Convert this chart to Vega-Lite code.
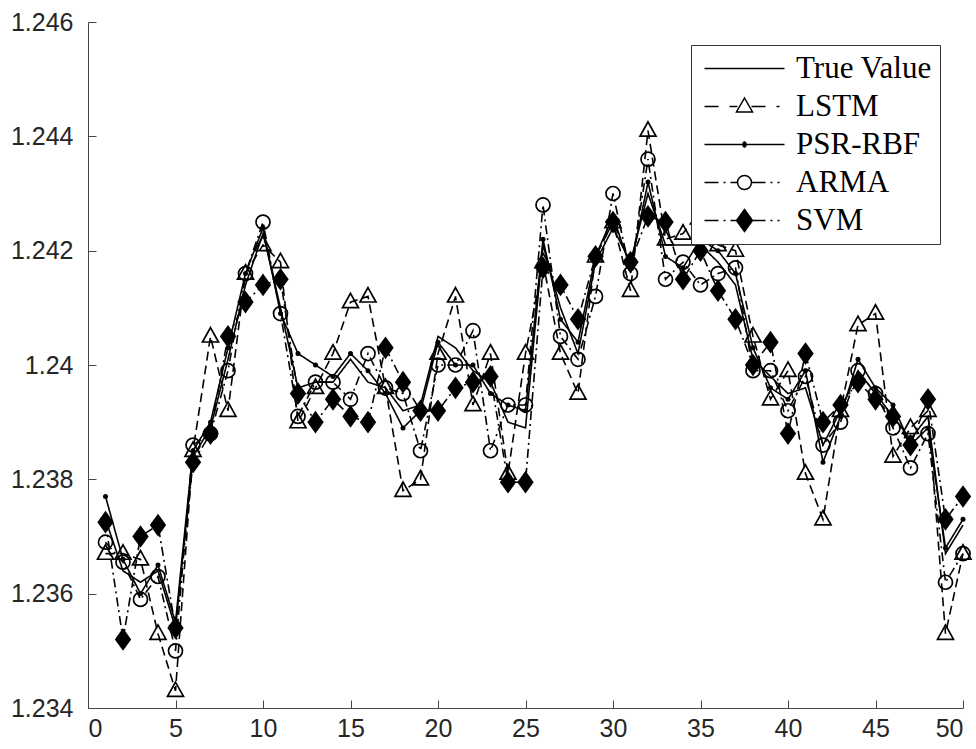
{
  "$schema": "https://vega.github.io/schema/vega-lite/v6.json",
  "width": 875,
  "height": 686,
  "autosize": {"type": "none"},
  "padding": {"left": 88, "top": 22, "right": 13, "bottom": 41},
  "background": "white",
  "config": {
    "view": {"stroke": null},
    "axis": {
      "grid": false,
      "domainColor": "#444444",
      "tickColor": "#444444",
      "labelColor": "#262626",
      "labelFont": "Liberation Sans",
      "labelFontSize": 25,
      "domainWidth": 1,
      "tickWidth": 1
    }
  },
  "data": {
    "values": [
      {"x": 1, "True Value": 1.2373, "LSTM": 1.2367, "PSR-RBF": 1.2377, "ARMA": 1.2369, "SVM": 1.23725},
      {"x": 2, "True Value": 1.2364, "LSTM": 1.2367, "PSR-RBF": 1.2366, "ARMA": 1.23655, "SVM": 1.2352},
      {"x": 3, "True Value": 1.2362, "LSTM": 1.2366, "PSR-RBF": 1.236, "ARMA": 1.2359, "SVM": 1.237},
      {"x": 4, "True Value": 1.2364, "LSTM": 1.2353, "PSR-RBF": 1.2365, "ARMA": 1.2363, "SVM": 1.2372},
      {"x": 5, "True Value": 1.2354, "LSTM": 1.2343, "PSR-RBF": 1.2355, "ARMA": 1.235, "SVM": 1.2354},
      {"x": 6, "True Value": 1.2384, "LSTM": 1.2385, "PSR-RBF": 1.2385, "ARMA": 1.2386, "SVM": 1.2383},
      {"x": 7, "True Value": 1.2389, "LSTM": 1.2405, "PSR-RBF": 1.239, "ARMA": 1.2388, "SVM": 1.2388},
      {"x": 8, "True Value": 1.2401, "LSTM": 1.2392, "PSR-RBF": 1.2403, "ARMA": 1.2399, "SVM": 1.2405},
      {"x": 9, "True Value": 1.2414, "LSTM": 1.2416, "PSR-RBF": 1.2416, "ARMA": 1.2416, "SVM": 1.2411},
      {"x": 10, "True Value": 1.2423, "LSTM": 1.2421, "PSR-RBF": 1.2424, "ARMA": 1.2425, "SVM": 1.2414},
      {"x": 11, "True Value": 1.241, "LSTM": 1.2418, "PSR-RBF": 1.2409, "ARMA": 1.2409, "SVM": 1.2415},
      {"x": 12, "True Value": 1.2396, "LSTM": 1.239, "PSR-RBF": 1.2402, "ARMA": 1.2391, "SVM": 1.2395},
      {"x": 13, "True Value": 1.2397, "LSTM": 1.2396, "PSR-RBF": 1.24, "ARMA": 1.2397, "SVM": 1.239},
      {"x": 14, "True Value": 1.2397, "LSTM": 1.2402, "PSR-RBF": 1.2398, "ARMA": 1.2397, "SVM": 1.2394},
      {"x": 15, "True Value": 1.2401, "LSTM": 1.2411, "PSR-RBF": 1.2402, "ARMA": 1.2394, "SVM": 1.2391},
      {"x": 16, "True Value": 1.2397, "LSTM": 1.2412, "PSR-RBF": 1.2399, "ARMA": 1.2402, "SVM": 1.239},
      {"x": 17, "True Value": 1.2396, "LSTM": 1.2396, "PSR-RBF": 1.2395, "ARMA": 1.2396, "SVM": 1.2403},
      {"x": 18, "True Value": 1.2392, "LSTM": 1.2378, "PSR-RBF": 1.2389, "ARMA": 1.2395, "SVM": 1.2397},
      {"x": 19, "True Value": 1.2393, "LSTM": 1.238, "PSR-RBF": 1.2392, "ARMA": 1.2385, "SVM": 1.2392},
      {"x": 20, "True Value": 1.2405, "LSTM": 1.2402, "PSR-RBF": 1.2404, "ARMA": 1.24, "SVM": 1.2392},
      {"x": 21, "True Value": 1.2403, "LSTM": 1.2412, "PSR-RBF": 1.24, "ARMA": 1.24, "SVM": 1.2396},
      {"x": 22, "True Value": 1.2399, "LSTM": 1.2393, "PSR-RBF": 1.24, "ARMA": 1.2406, "SVM": 1.2397},
      {"x": 23, "True Value": 1.2397, "LSTM": 1.2402, "PSR-RBF": 1.2395, "ARMA": 1.2385, "SVM": 1.2398},
      {"x": 24, "True Value": 1.239, "LSTM": 1.2381, "PSR-RBF": 1.2393, "ARMA": 1.2393, "SVM": 1.23795},
      {"x": 25, "True Value": 1.2389, "LSTM": 1.2402, "PSR-RBF": 1.2392, "ARMA": 1.2393, "SVM": 1.23795},
      {"x": 26, "True Value": 1.2421, "LSTM": 1.2418, "PSR-RBF": 1.2422, "ARMA": 1.2428, "SVM": 1.2417},
      {"x": 27, "True Value": 1.241, "LSTM": 1.2402, "PSR-RBF": 1.2408, "ARMA": 1.2405, "SVM": 1.2414},
      {"x": 28, "True Value": 1.2402, "LSTM": 1.2395, "PSR-RBF": 1.2404, "ARMA": 1.2401, "SVM": 1.2408},
      {"x": 29, "True Value": 1.2418, "LSTM": 1.2419, "PSR-RBF": 1.2419, "ARMA": 1.2412, "SVM": 1.2419},
      {"x": 30, "True Value": 1.2424, "LSTM": 1.2425, "PSR-RBF": 1.2426, "ARMA": 1.243, "SVM": 1.2425},
      {"x": 31, "True Value": 1.2418, "LSTM": 1.2413, "PSR-RBF": 1.2417, "ARMA": 1.2416, "SVM": 1.2418},
      {"x": 32, "True Value": 1.243, "LSTM": 1.2441, "PSR-RBF": 1.2432, "ARMA": 1.2436, "SVM": 1.2426},
      {"x": 33, "True Value": 1.2421, "LSTM": 1.2422, "PSR-RBF": 1.2419, "ARMA": 1.2415, "SVM": 1.2425},
      {"x": 34, "True Value": 1.2421, "LSTM": 1.2423, "PSR-RBF": 1.2417, "ARMA": 1.2418, "SVM": 1.2415},
      {"x": 35, "True Value": 1.2421, "LSTM": 1.2427, "PSR-RBF": 1.2422, "ARMA": 1.2414, "SVM": 1.242},
      {"x": 36, "True Value": 1.2418, "LSTM": 1.2421, "PSR-RBF": 1.242, "ARMA": 1.2416, "SVM": 1.2413},
      {"x": 37, "True Value": 1.2414, "LSTM": 1.242, "PSR-RBF": 1.2416, "ARMA": 1.2417, "SVM": 1.2408},
      {"x": 38, "True Value": 1.2401, "LSTM": 1.2405, "PSR-RBF": 1.2403, "ARMA": 1.2399, "SVM": 1.24},
      {"x": 39, "True Value": 1.2398, "LSTM": 1.2394, "PSR-RBF": 1.2396, "ARMA": 1.2399, "SVM": 1.2404},
      {"x": 40, "True Value": 1.2395, "LSTM": 1.2399, "PSR-RBF": 1.2394, "ARMA": 1.2392, "SVM": 1.2388},
      {"x": 41, "True Value": 1.2396, "LSTM": 1.2381, "PSR-RBF": 1.2399, "ARMA": 1.2398, "SVM": 1.2402},
      {"x": 42, "True Value": 1.2386, "LSTM": 1.2373, "PSR-RBF": 1.2383, "ARMA": 1.2386, "SVM": 1.239},
      {"x": 43, "True Value": 1.2392, "LSTM": 1.2392, "PSR-RBF": 1.2391, "ARMA": 1.239, "SVM": 1.2393},
      {"x": 44, "True Value": 1.2399, "LSTM": 1.2407, "PSR-RBF": 1.2401, "ARMA": 1.2399, "SVM": 1.2397},
      {"x": 45, "True Value": 1.2395, "LSTM": 1.2409, "PSR-RBF": 1.2396, "ARMA": 1.2395, "SVM": 1.2394},
      {"x": 46, "True Value": 1.2391, "LSTM": 1.2384, "PSR-RBF": 1.2393, "ARMA": 1.2389, "SVM": 1.2391},
      {"x": 47, "True Value": 1.2387, "LSTM": 1.2389, "PSR-RBF": 1.2386, "ARMA": 1.2382, "SVM": 1.2386},
      {"x": 48, "True Value": 1.2391, "LSTM": 1.2392, "PSR-RBF": 1.2389, "ARMA": 1.2388, "SVM": 1.2394},
      {"x": 49, "True Value": 1.2367, "LSTM": 1.2353, "PSR-RBF": 1.2368, "ARMA": 1.2362, "SVM": 1.2373},
      {"x": 50, "True Value": 1.2372, "LSTM": 1.2367, "PSR-RBF": 1.2373, "ARMA": 1.2367, "SVM": 1.2377}
    ]
  },
  "transform": [
    {"fold": ["True Value", "LSTM", "PSR-RBF", "ARMA", "SVM"], "as": ["series", "value"]}
  ],
  "encoding": {
    "x": {
      "field": "x",
      "type": "quantitative",
      "scale": {"domain": [0, 50], "nice": false},
      "axis": {"values": [0, 5, 10, 15, 20, 25, 30, 35, 40, 45, 50], "tickSize": -8, "labelPadding": 16, "title": null}
    },
    "y": {
      "field": "value",
      "type": "quantitative",
      "scale": {"domain": [1.234, 1.246], "nice": false, "zero": false},
      "axis": {
        "values": [1.234, 1.236, 1.238, 1.24, 1.242, 1.244, 1.246],
        "labelExpr": "format(datum.value, '~g')",
        "tickSize": -8,
        "labelPadding": 23,
        "title": null
      }
    }
  },
  "layer": [
    {
      "mark": {"type": "line", "color": "black", "strokeWidth": 1.6},
      "encoding": {
        "strokeDash": {
          "field": "series",
          "type": "nominal",
          "scale": {
            "domain": ["True Value", "LSTM", "PSR-RBF", "ARMA", "SVM"],
            "range": [[1, 0], [9, 5], [1, 0], [9, 4, 2, 4], [9, 4, 2, 4]]
          },
          "legend": null
        }
      }
    },
    {
      "transform": [{"filter": "datum.series === 'LSTM'"}],
      "mark": {"type": "point", "shape": "M0,-1.1L1,0.7L-1,0.7Z", "size": 256, "filled": false, "color": "black", "strokeWidth": 1.7, "opacity": 1}
    },
    {
      "transform": [{"filter": "datum.series === 'ARMA'"}],
      "mark": {"type": "point", "shape": "circle", "size": 196, "filled": false, "color": "black", "strokeWidth": 1.7, "opacity": 1}
    },
    {
      "transform": [{"filter": "datum.series === 'SVM'"}],
      "mark": {"type": "point", "shape": "M0,-1.25L0.9,0L0,1.25L-0.9,0Z", "size": 330, "filled": true, "color": "black", "opacity": 1}
    },
    {
      "transform": [{"filter": "datum.series === 'PSR-RBF'"}],
      "mark": {"type": "point", "shape": "circle", "size": 25, "filled": true, "color": "black", "opacity": 1}
    },
    {
      "transform": [{"filter": "datum.x === 1"}],
      "mark": {"type": "point", "filled": false, "opacity": 0, "color": "black"},
      "encoding": {
        "shape": {
          "field": "series",
          "type": "nominal",
          "scale": {
            "domain": ["True Value", "LSTM", "PSR-RBF", "ARMA", "SVM"],
            "range": [
              "M-1,0H7",
              "M-1,0H0.4M1.5,0H2.3M3.7,0H5.1M6.2,0H6.5M3,-0.85L3.8,0.55L2.2,0.55Z",
              "M-1,0H7M2.75,0H3.25M2.8,-0.15H3.2M2.8,0.15H3.2M2.9,-0.25H3.1M2.9,0.25H3.1",
              "M-1,0H0.4M0.9,0H1.1M1.6,0H2.3M3.7,0H5.1M5.6,0H5.8M6.3,0H6.5M3.7,0A0.7,0.7,0,1,1,2.3,0A0.7,0.7,0,1,1,3.7,0Z",
              "M-1,0H0.4M0.9,0H1.1M1.6,0H2.2M3.8,0H5.1M5.6,0H5.8M6.3,0H6.5M3,-1.1L3.8,0L3,1.1L2.2,0ZM2.2,0H3.8M2.27,-0.1H3.73M2.27,0.1H3.73M2.35,-0.2H3.65M2.35,0.2H3.65M2.42,-0.3H3.58M2.42,0.3H3.58M2.49,-0.4H3.51M2.49,0.4H3.51M2.56,-0.5H3.44M2.56,0.5H3.44M2.64,-0.6H3.36M2.64,0.6H3.36M2.71,-0.7H3.29M2.71,0.7H3.29M2.78,-0.8H3.22M2.78,0.8H3.22M2.85,-0.9H3.15M2.85,0.9H3.15M2.93,-1H3.07M2.93,1H3.07"
            ]
          },
          "legend": {
            "title": null,
            "orient": "top-right",
            "offset": 23,
            "padding": 8,
            "rowPadding": 6,
            "strokeColor": "#333333",
            "fillColor": "white",
            "symbolSize": 400,
            "symbolOpacity": 1,
            "symbolStrokeColor": "black",
            "symbolStrokeWidth": 1.5,
            "symbolFillColor": "transparent",
            "labelFont": "Liberation Serif",
            "labelFontSize": 31,
            "labelColor": "black",
            "labelOffset": 66,
            "labelLimit": 400
          }
        }
      }
    }
  ],
  "resolve": {"scale": {"shape": "independent"}, "legend": {"shape": "independent"}}
}
